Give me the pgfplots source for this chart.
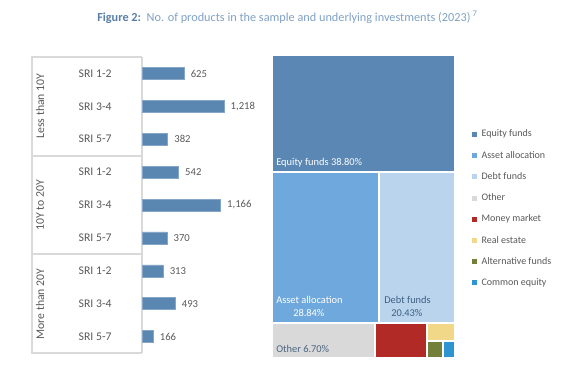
\documentclass[border=0pt]{standalone}
\usepackage{pgfplots}
\pgfplotsset{compat=1.18}
\usepackage{fontspec}
\setmainfont{Carlito}
\definecolor{barblue}{HTML}{5A86B2}
\definecolor{baredge}{HTML}{86A6C8}
\definecolor{frame}{HTML}{D9D9D9}
\definecolor{lbl}{HTML}{595959}
\definecolor{titleA}{HTML}{5A7EA6}
\definecolor{titleB}{HTML}{7FA1C6}
\definecolor{cEq}{HTML}{5A87B3}
\definecolor{cAs}{HTML}{6FA8DC}
\definecolor{cDe}{HTML}{BAD4EE}
\definecolor{cOt}{HTML}{D9D9D9}
\definecolor{cMo}{HTML}{B22A25}
\definecolor{cRe}{HTML}{F0D888}
\definecolor{cAl}{HTML}{72803A}
\definecolor{cCo}{HTML}{2E95D0}
\definecolor{tdark}{HTML}{3E5F82}
\begin{document}
\begin{tikzpicture}
\path (0,0) rectangle (425.25pt,278.25pt);
% title
\node[anchor=west,inner sep=0pt] at (72.75pt,265.5pt) {\fontsize{9.2}{11}\selectfont\textcolor{titleA}{\textbf{Figure 2:}}\ \ \textcolor{titleB}{No. of products in the sample and underlying investments (2023)\,\textsuperscript{7}}};
% frame of the left chart
\draw[frame,line width=0.8pt] (106.5pt,235.5pt) -- (24pt,235.5pt) -- (24pt,13.5pt) -- (106.5pt,13.5pt);
\draw[frame,line width=0.8pt] (24pt,161.25pt) -- (106.5pt,161.25pt);
\draw[frame,line width=0.8pt] (24pt,87.75pt) -- (106.5pt,87.75pt);
\begin{scope}[every node/.style={rotate=90,text=lbl,font=\fontsize{8.8}{10}\selectfont}]
\node at (30pt,198.75pt) {Less than 10Y};
\node at (30pt,124.5pt) {10Y to 20Y};
\node at (30pt,50.25pt) {More than 20Y};
\end{scope}
\begin{axis}[at={(106.5pt,13.5pt)}, anchor=south west, scale only axis,
  width=90pt, height=222pt, xbar, bar width=9pt,
  xmin=0, xmax=1783, ymin=0.5, ymax=9.5, y dir=reverse,
  ytick={1,...,9},
  yticklabels={SRI 1-2,SRI 3-4,SRI 5-7,SRI 1-2,SRI 3-4,SRI 5-7,SRI 1-2,SRI 3-4,SRI 5-7},
  axis x line=none, axis y line*=left,
  y axis line style={draw=frame,line width=0.8pt,-},
  major tick length=0pt,
  yticklabel style={anchor=west,xshift=-51pt,text=lbl,font=\fontsize{8.8}{10}\selectfont},
  nodes near coords, point meta=x,
  nodes near coords style={anchor=west,xshift=1.5pt,text=lbl,font=\fontsize{8}{9}\selectfont},
  /pgf/number format/1000 sep={,},
  /pgf/number format/assume math mode=true,
  clip=false]
\addplot[fill=barblue,draw=baredge,line width=0.4pt] coordinates {
(625,1) (1218,2) (382,3) (542,4) (1166,5) (370,6) (313,7) (493,8) (166,9)};
\end{axis}
% treemap
\begin{axis}[at={(204pt,9.75pt)}, anchor=south west, scale only axis,
  width=137.25pt, height=227.25pt, xmin=0, xmax=183, ymin=0, ymax=303,
  hide axis, no markers, clip=false,
  legend style={draw=none,fill=none,at={(1.08,0.762)},anchor=north west,
    font=\fontsize{7.5}{9}\selectfont,text=lbl,row sep=5.2pt,inner sep=0pt},
  legend cell align=left,
  legend image code/.code={\fill[#1] (0pt,-2.6pt) rectangle (5.2pt,2.6pt);}]
\addplot[fill=cEq,draw=white,line width=1.5pt] coordinates {(0,186) (183,186) (183,303) (0,303)} -- cycle;
\addplot[fill=cAs,draw=white,line width=1.5pt] coordinates {(0,35) (107,35) (107,186) (0,186)} -- cycle;
\addplot[fill=cDe,draw=white,line width=1.5pt] coordinates {(107,35) (183,35) (183,186) (107,186)} -- cycle;
\addplot[fill=cOt,draw=white,line width=1.5pt] coordinates {(0,0) (103,0) (103,35) (0,35)} -- cycle;
\addplot[fill=cMo,draw=white,line width=1.5pt] coordinates {(103,0) (155,0) (155,35) (103,35)} -- cycle;
\addplot[fill=cRe,draw=white,line width=1.5pt] coordinates {(155,17) (183,17) (183,35) (155,35)} -- cycle;
\addplot[fill=cAl,draw=white,line width=1.5pt] coordinates {(155,0) (171,0) (171,17) (155,17)} -- cycle;
\addplot[fill=cCo,draw=white,line width=1.5pt] coordinates {(171,0) (183,0) (183,17) (171,17)} -- cycle;
\legend{Equity funds,Asset allocation,Debt funds,Other,Money market,Real estate,Alternative funds,Common equity}
\node[anchor=south west,text=white,font=\fontsize{7.8}{9}\selectfont,inner sep=0pt] at (axis cs:4,191) {Equity funds 38.80\%};
\node[anchor=south west,text=white,font=\fontsize{7.8}{9}\selectfont,inner sep=0pt] at (axis cs:4,54) {Asset allocation};
\node[anchor=south west,text=white,font=\fontsize{7.8}{9}\selectfont,inner sep=0pt] at (axis cs:21,41) {28.84\%};
\node[anchor=south west,text=tdark,font=\fontsize{7.8}{9}\selectfont,inner sep=0pt] at (axis cs:112,54) {Debt funds};
\node[anchor=south west,text=tdark,font=\fontsize{7.8}{9}\selectfont,inner sep=0pt] at (axis cs:119,41) {20.43\%};
\node[anchor=south west,text=tdark!80!gray,font=\fontsize{7.8}{9}\selectfont,inner sep=0pt] at (axis cs:4,5) {Other 6.70\%};
\end{axis}
\end{tikzpicture}
\end{document}
